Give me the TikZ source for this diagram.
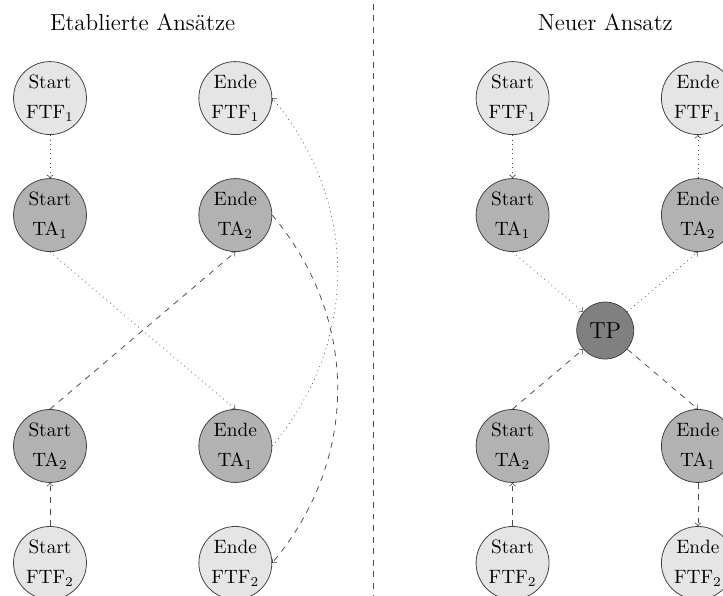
\documentclass[tikz,border=0pt]{standalone}
\usetikzlibrary{positioning}

\begin{document}
\begin{tikzpicture}[
    state/.style={circle, draw=black!75, inner sep=0pt, minimum size=37.8pt, align=center},
    ftf/.style={state, fill=black!10},
    ta/.style={state, fill=black!30},
    tp/.style={circle, draw=black!75, fill=black!50, inner sep=0pt, minimum size=29.5pt, font=\large},
    heading/.style={font=\large},
    dotarrow/.style={->, dotted, black!70},
    dasharrow/.style={->, dashed, black!70},
    node distance=60.6pt, on grid
]

\useasboundingbox (0,0) rectangle (374.5pt,-308.2pt);
\clip (0,0) rectangle (374.5pt,-308.2pt);

% Headings
\node[heading] (hEtab) at (73.9pt,-11.4pt) {Etablierte Ansätze};
\node[heading] (hNeu) at (313.5pt,-11.4pt) {Neuer Ansatz};

% Separator
\draw[dashed, black!70] (193.2pt,-2pt) -- (193.2pt,-310pt);

% Etablierte Ansaetze
\node[ftf] (lsFTF1) at (25.9pt,-50.8pt) {Start\\[3.5pt]FTF$_1$};
\node[ta, below=of lsFTF1] (lsTA1) {Start\\[3.5pt]TA$_1$};
\node[ta, below=119.6pt of lsTA1] (lsTA2) {Start\\[3.5pt]TA$_2$};
\node[ftf, below=of lsTA2] (lsFTF2) {Start\\[3.5pt]FTF$_2$};

\node[ftf, right=96pt of lsFTF1] (leFTF1) {Ende\\[3.5pt]FTF$_1$};
\node[ta, below=of leFTF1] (leTA2) {Ende\\[3.5pt]TA$_2$};
\node[ta, below=119.6pt of leTA2] (leTA1) {Ende\\[3.5pt]TA$_1$};
\node[ftf, below=of leTA1] (leFTF2) {Ende\\[3.5pt]FTF$_2$};

% Neuer Ansatz
\node[ftf] (rsFTF1) at (265.5pt,-50.8pt) {Start\\[3.5pt]FTF$_1$};
\node[ta, below=of rsFTF1] (rsTA1) {Start\\[3.5pt]TA$_1$};
\node[ta, below=119.6pt of rsTA1] (rsTA2) {Start\\[3.5pt]TA$_2$};
\node[ftf, below=of rsTA2] (rsFTF2) {Start\\[3.5pt]FTF$_2$};

\node[ftf, right=96pt of rsFTF1] (reFTF1) {Ende\\[3.5pt]FTF$_1$};
\node[ta, below=of reFTF1] (reTA2) {Ende\\[3.5pt]TA$_2$};
\node[ta, below=119.6pt of reTA2] (reTA1) {Ende\\[3.5pt]TA$_1$};
\node[ftf, below=of reTA1] (reFTF2) {Ende\\[3.5pt]FTF$_2$};

\node[tp, below right=59.8pt and 48pt of rsTA1] (tp) {TP};

% Arrows left
\draw[dotarrow] (lsFTF1) -- (lsTA1);
\draw[dotarrow] (lsTA1.south) -- (leTA1.north);
\draw[dotarrow] (leTA1.east) to[bend right=40] (leFTF1.east);
\draw[dasharrow] (lsFTF2) -- (lsTA2);
\draw[dasharrow] (lsTA2.north) -- (leTA2.south);
\draw[dasharrow] (leTA2.east) to[bend left=40] (leFTF2.east);

% Arrows right
\draw[dotarrow] (rsFTF1) -- (rsTA1);
\draw[dotarrow] (rsTA1.south) -- (tp);
\draw[dotarrow] (tp) -- (reTA2.south);
\draw[dotarrow] (reTA2) -- (reFTF1);
\draw[dasharrow] (rsFTF2) -- (rsTA2);
\draw[dasharrow] (rsTA2.north) -- (tp);
\draw[dasharrow] (tp) -- (reTA1.north);
\draw[dasharrow] (reTA1) -- (reFTF2);

\end{tikzpicture}
\end{document}
